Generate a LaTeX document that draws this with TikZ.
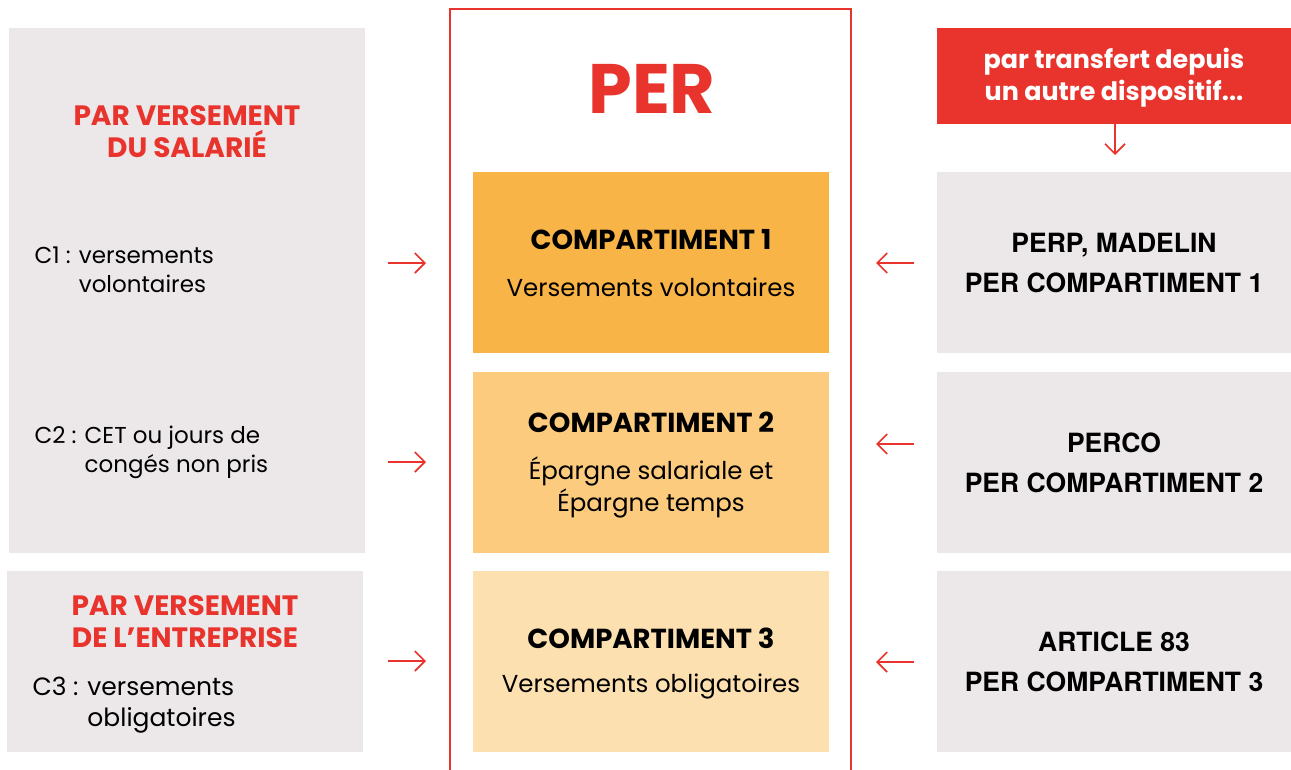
\documentclass[tikz,border=0pt]{standalone}
\usepackage{fontspec}
\setmainfont{Poppins}
\newfontfamily\helv{TeX Gyre Heros}
\usetikzlibrary{arrows.meta}
\definecolor{perred}{HTML}{E8342C}
\definecolor{boxgrey}{HTML}{ECE8E9}
\definecolor{cone}{HTML}{F8B446}
\definecolor{ctwo}{HTML}{FCCB7E}
\definecolor{cthree}{HTML}{FCE0B0}
\tikzset{
  box/.style={inner sep=0pt, outer sep=0pt},
  arr/.style={draw=perred, line width=1.7pt, -{Straight Barb[length=10pt,width=20pt,line width=1.7pt]}},
  head/.style={text=perred, font=\bfseries\fontsize{28}{32}\selectfont, align=center},
  ltext/.style={font=\fontsize{23}{29}\selectfont, align=left, anchor=west},
  ctitle/.style={font=\bfseries\fontsize{27.5}{30}\selectfont},
  csub/.style={font=\fontsize{24.5}{32}\selectfont, align=center},
  rtext/.style={font=\helv\bfseries\fontsize{26.5}{40}\selectfont, align=center},
}
\begin{document}
\begin{tikzpicture}[x=1pt,y=-1pt]
\useasboundingbox (0,0) rectangle (1291,769);
% left boxes
\node[box, fill=boxgrey, minimum width=356pt, minimum height=525pt] (L1) at (187,290.5) {};
\node[box, fill=boxgrey, minimum width=356pt, minimum height=181pt] (L2) at (185,661.5) {};
% PER frame
\draw[perred, line width=2.4pt] (450,775) -- (450,9) -- (851,9) -- (851,775);
\node[text=perred, font=\bfseries\fontsize{70}{70}\selectfont] (per) at (652,89) {PER};
% compartments
\node[box, fill=cone, minimum width=356pt, minimum height=181pt] (C1) at (651,262.5) {};
\node[box, fill=ctwo, minimum width=356pt, minimum height=181pt] (C2) at (651,462.5) {};
\node[box, fill=cthree, minimum width=356pt, minimum height=181pt] (C3) at (651,661.5) {};
% right boxes
\node[box, fill=perred, minimum width=354pt, minimum height=96pt] (R0) at (1114,76) {};
\node[box, fill=boxgrey, minimum width=354pt, minimum height=181pt] (R1) at (1114,262.5) {};
\node[box, fill=boxgrey, minimum width=354pt, minimum height=181pt] (R2) at (1114,462.5) {};
\node[box, fill=boxgrey, minimum width=354pt, minimum height=181pt] (R3) at (1114,661.5) {};
% texts left
\node[head] (h1) at (187,132) {PAR VERSEMENT\\DU SALARIÉ};
\node[ltext] (t1) at (31,269.5) {C1 : versements\\\phantom{C1 : }volontaires};
\node[ltext] (t2) at (31,452.5) {C2 : CET ou jours de\\\phantom{C2 : }congés non pris};
\node[head] (h2) at (185,622) {PAR VERSEMENT\\DE L’ENTREPRISE};
\node[ltext, font=\fontsize{25}{31}\selectfont] (t3) at (29,705) {C3 : versements\\\phantom{C3 : }obligatoires};
% compartment texts
\node[ctitle] (c1t) at (651,240) {COMPARTIMENT 1};
\node[csub] (c1s) at (651,287) {Versements volontaires};
\node[ctitle] (c2t) at (651,422) {COMPARTIMENT 2};
\node[csub] (c2s) at (651,487) {Épargne salariale et\\Épargne temps};
\node[ctitle] (c3t) at (651,638) {COMPARTIMENT 3};
\node[csub] (c3s) at (651,686) {Versements obligatoires};
% right texts
\node[text=white, font=\bfseries\fontsize{25.4}{32}\selectfont, align=center] (r0t) at (1114,78) {par transfert depuis\\un autre dispositif...};
\node[rtext] (r1t) at (1114,263) {PERP, MADELIN\\PER COMPARTIMENT 1};
\node[rtext] (r2t) at (1114,463) {PERCO\\PER COMPARTIMENT 2};
\node[rtext] (r3t) at (1114,662) {ARTICLE 83\\PER COMPARTIMENT 3};
% arrows
\coordinate (a1s) at (388,263); \coordinate (a1e) at (426,263);
\coordinate (a2s) at (388,462); \coordinate (a2e) at (426,462);
\coordinate (a3s) at (388,661); \coordinate (a3e) at (426,661);
\coordinate (b1s) at (914,263); \coordinate (b1e) at (876,263);
\coordinate (b2s) at (914,444); \coordinate (b2e) at (876,444);
\coordinate (b3s) at (914,662); \coordinate (b3e) at (876,662);
\coordinate (ds) at (1115,124); \coordinate (de) at (1115,155);
\draw[arr] (a1s) -- (a1e);
\draw[arr] (a2s) -- (a2e);
\draw[arr] (a3s) -- (a3e);
\draw[arr] (b1s) -- (b1e);
\draw[arr] (b2s) -- (b2e);
\draw[arr] (b3s) -- (b3e);
\draw[arr] (ds) -- (de);
\end{tikzpicture}
\end{document}
